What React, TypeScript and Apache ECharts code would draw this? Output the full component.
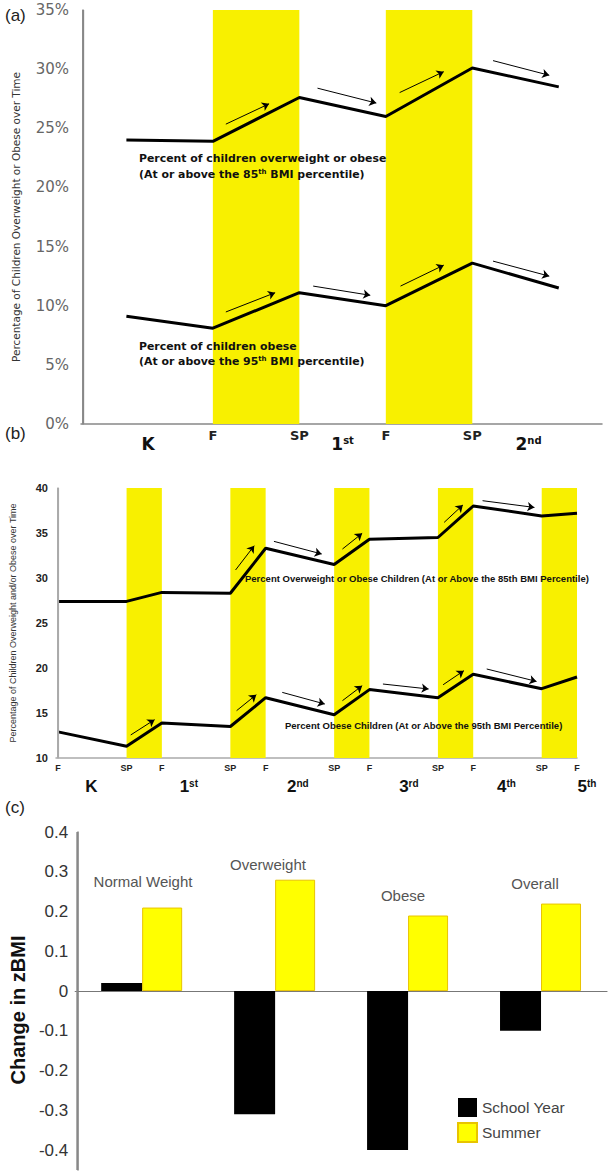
import React, { useEffect, useRef } from 'react';
import * as echarts from 'echarts';

// ---------- Panel (a) ----------
const A_X = [0.5, 1.5, 2.5, 3.5, 4.5, 5.5];
const A_OVER = [24.0, 23.9, 27.6, 26.0, 30.1, 28.5];
const A_OBESE = [9.1, 8.1, 11.1, 10.0, 13.6, 11.5];
const A_TERM_TICKS = [1.5, 2.5, 3.5, 4.5];
const A_TERM_LABELS = ['F', 'SP', 'F', 'SP'];
const A_GRADE_POS = [0.75, 3.0, 5.15];
const A_GRADES = [['K', ''], ['1', 'st'], ['2', 'nd']];
const A_SUMMER = [[1.5, 2.5], [3.5, 4.5]];
const A_ARROWS_OVER = [
  [1.65, 25.35, 2.15, 27.07],
  [2.71, 28.39, 3.39, 27.13],
  [3.66, 28.02, 4.17, 29.79],
  [4.74, 30.72, 5.39, 29.48],
];
const A_ARROWS_OBESE = [
  [1.65, 9.47, 2.22, 11.1],
  [2.66, 11.66, 3.32, 10.88],
  [3.67, 11.66, 4.17, 13.43],
  [4.74, 13.77, 5.39, 12.5],
];

// ---------- Panel (b) ----------
const B_X = [0, 0.66, 1, 1.66, 2, 2.66, 3, 3.66, 4, 4.66, 5];
const B_OVER = [27.4, 27.4, 28.4, 28.3, 33.3, 31.5, 34.3, 34.5, 38.0, 36.9, 37.2];
const B_OBESE = [12.9, 11.3, 13.9, 13.5, 16.7, 14.8, 17.6, 16.7, 19.3, 17.7, 19.0];
const B_TERM_TICKS = [0, 0.66, 1, 1.66, 2, 2.66, 3, 3.66, 4, 4.66, 5];
const B_TERM_LABELS = ['F', 'SP', 'F', 'SP', 'F', 'SP', 'F', 'SP', 'F', 'SP', 'F'];
const B_GRADE_POS = [0.32, 1.26, 2.31, 3.38, 4.32, 5];
const B_GRADES = [['K', ''], ['1', 'st'], ['2', 'nd'], ['3', 'rd'], ['4', 'th'], ['5', 'th']];
const B_SUMMER = [[0.66, 1], [1.66, 2], [2.66, 3], [3.66, 4], [4.66, 5]];
const B_ARROWS_OVER = [
  [1.71, 30.89, 1.89, 33.59],
  [2.08, 34.07, 2.54, 32.67],
  [2.74, 33.22, 2.93, 34.96],
  [3.72, 36.18, 3.9, 38.11],
  [4.09, 38.59, 4.59, 37.84],
];
const B_ARROWS_OBESE = [
  [0.7, 12.56, 0.93, 14.26],
  [1.72, 15.26, 1.91, 17.03],
  [2.16, 17.29, 2.57, 16.0],
  [2.74, 16.37, 2.93, 18.03],
  [3.13, 18.22, 3.57, 17.67],
  [3.71, 18.14, 3.91, 19.7],
  [4.13, 19.89, 4.61, 18.51],
];

// ---------- Panel (c) ----------
const C_CATS = ['Normal Weight', 'Overweight', 'Obese', 'Overall'];
const C_SCHOOL = [0.02, -0.31, -0.4, -0.1];
const C_SUMMER = [0.21, 0.28, 0.19, 0.22];
const C_Y_TICKS = [-0.4, -0.3, -0.2, -0.1, 0, 0.1, 0.2, 0.3, 0.4];

const YELLOW = '#f8f000';

function idxOf(list: number[], v: number) {
  return list.findIndex((x) => Math.abs(x - v) < 1e-6);
}

function arrowLines(arrows: number[][]) {
  return {
    silent: true,
    symbol: ['none', 'arrow'],
    symbolSize: 7,
    lineStyle: { color: '#000', width: 1, type: 'solid' },
    label: { show: false },
    emphasis: { disabled: true },
    data: arrows.map((a) => [{ coord: [a[0], a[1]] }, { coord: [a[2], a[3]] }]),
  };
}

export default function App() {
  const ref = useRef<HTMLDivElement>(null);
  useEffect(() => {
    document.body.style.margin = '0';
    const chart = echarts.init(ref.current!, null, { renderer: 'svg' });

    const gradeRichA = {
      g: { fontSize: 17, fontWeight: 'bold', color: '#111', fontFamily: 'DejaVu Sans' },
      s: { fontSize: 10, fontWeight: 'bold', color: '#111', fontFamily: 'DejaVu Sans', verticalAlign: 'top' },
    };
    const gradeRichB = {
      g: { fontSize: 17, fontWeight: 'bold', color: '#111', fontFamily: 'Liberation Sans' },
      s: { fontSize: 10, fontWeight: 'bold', color: '#111', fontFamily: 'Liberation Sans', verticalAlign: 'top' },
      p: { fontSize: 17, fontWeight: 'bold', color: '#111', fontFamily: 'Liberation Sans', padding: [0, 0, 0, 20] },
    };

    // y-axis line drawn as a thin rectangle through the library's coordinate mapping
    const yLine = (xIdx: number, yIdx: number, yMin: number, yMax: number, color: string) => ({
      type: 'custom', xAxisIndex: xIdx, yAxisIndex: yIdx, z: 10, silent: true, clip: false,
      data: [[0, yMin, yMax]],
      renderItem: (params: any, api: any) => {
        const p1 = api.coord([api.value(0), api.value(2)]);
        const p2 = api.coord([api.value(0), api.value(1)]);
        return {
          type: 'rect',
          shape: { x: p1[0] - 1, y: p1[1], width: 2, height: p2[1] - p1[1] },
          style: { fill: color },
        };
      },
    });

    const option: any = {
      animation: false,
      grid: [
        { left: 81, top: 10, width: 521, height: 414 },
        { left: 48, top: 488, width: 529, height: 270 },
        { left: 71, top: 832, width: 536, height: 338 },
      ],
      legend: {
        data: ['School Year', 'Summer'],
        orient: 'vertical',
        left: 457,
        top: 1098,
        padding: 0,
        itemWidth: 19,
        itemHeight: 19,
        itemGap: 5,
        icon: 'rect',
        selectedMode: false,
        textStyle: { fontSize: 15.5, color: '#444', fontFamily: 'Liberation Sans' },
      },
      xAxis: [
        {
          gridIndex: 0, type: 'value', min: -0.025, max: 6, position: 'bottom',
          axisLine: { show: true, lineStyle: { color: '#888', width: 1.5 } },
          axisTick: { show: false }, splitLine: { show: false },
          axisLabel: {
            customValues: A_TERM_TICKS,
            formatter: (v: number) => A_TERM_LABELS[idxOf(A_TERM_TICKS, v)] ?? '',
            fontSize: 13, fontWeight: 'bold', color: '#222', fontFamily: 'DejaVu Sans', margin: 5,
          },
        },
        {
          gridIndex: 0, type: 'value', min: -0.025, max: 6, position: 'bottom',
          axisLine: { show: false }, axisTick: { show: false }, splitLine: { show: false },
          axisLabel: {
            customValues: A_GRADE_POS,
            formatter: (v: number) => {
              const g = A_GRADES[idxOf(A_GRADE_POS, v)];
              if (!g) return '';
              return g[1] ? `{g|${g[0]}}{s|${g[1]}}` : `{g|${g[0]}}`;
            },
            rich: gradeRichA, margin: 11,
          },
        },
        {
          gridIndex: 1, type: 'value', min: -0.02, max: 5, position: 'bottom',
          axisLine: { show: true, lineStyle: { color: '#aaa', width: 1.5 } },
          axisTick: { show: false }, splitLine: { show: false },
          axisLabel: {
            customValues: B_TERM_TICKS,
            showMinLabel: true, showMaxLabel: true,
            formatter: (v: number) => B_TERM_LABELS[idxOf(B_TERM_TICKS, v)] ?? '',
            fontSize: 9, fontWeight: 'bold', color: '#222', fontFamily: 'Liberation Sans', margin: 5,
          },
        },
        {
          gridIndex: 1, type: 'value', min: -0.02, max: 5, position: 'bottom',
          axisLine: { show: false }, axisTick: { show: false }, splitLine: { show: false },
          axisLabel: {
            customValues: B_GRADE_POS,
            showMinLabel: true, showMaxLabel: true,
            formatter: (v: number) => {
              const i = idxOf(B_GRADE_POS, v);
              const g = B_GRADES[i];
              if (!g) return '';
              const main = i === B_GRADES.length - 1 ? 'p' : 'g';
              return g[1] ? `{${main}|${g[0]}}{s|${g[1]}}` : `{${main}|${g[0]}}`;
            },
            rich: gradeRichB, margin: 20,
          },
        },
        {
          gridIndex: 2, type: 'category', data: C_CATS,
          axisLine: { show: true, onZero: true, lineStyle: { color: '#777', width: 1.2 } },
          axisTick: { show: false }, splitLine: { show: false }, axisLabel: { show: false },
        },
        {
          gridIndex: 2, type: 'value', min: -0.004, max: 1, show: false,
        },
      ],
      yAxis: [
        {
          gridIndex: 0, type: 'value', min: 0, max: 35, interval: 5, position: 'left',
          axisLine: { show: true, onZero: true, lineStyle: { color: '#888', width: 1.5 } },
          axisTick: { show: false }, splitLine: { show: false },
          axisLabel: { formatter: '{value}%', color: '#666', fontSize: 15, fontFamily: 'DejaVu Sans', margin: 12 },
          name: 'Percentage of Children Overweight or Obese over Time',
          nameLocation: 'middle', nameGap: 60,
          nameTextStyle: { fontSize: 10.5, color: '#333', fontFamily: 'DejaVu Sans' },
        },
        {
          gridIndex: 1, type: 'value', min: 10, max: 40, interval: 5, position: 'left',
          axisLine: { show: true, onZero: true, lineStyle: { color: '#aaa', width: 1.5 } },
          axisTick: { show: false }, splitLine: { show: false },
          axisLabel: { color: '#222', fontSize: 11, fontWeight: 'bold', fontFamily: 'Liberation Sans', margin: 8 },
          name: 'Percentage of Children Overweight and/or Obese over Time',
          nameLocation: 'middle', nameGap: 39,
          nameTextStyle: { fontSize: 9, color: '#333', fontFamily: 'Liberation Sans' },
        },
        {
          gridIndex: 2, type: 'value', min: -0.45, max: 0.4, position: 'left',
          axisLine: { show: true, onZero: true, onZeroAxisIndex: 5, lineStyle: { color: '#888', width: 1.5 } },
          axisTick: { show: false }, splitLine: { show: false },
          axisLabel: {
            customValues: C_Y_TICKS,
            formatter: (v: number) => (Math.abs(v) < 1e-9 ? '0' : v.toFixed(1)),
            color: '#333', fontSize: 17, fontFamily: 'Liberation Sans', margin: 7,
          },
          name: 'Change in zBMI',
          nameLocation: 'middle', nameGap: 41,
          nameTextStyle: { fontSize: 20, fontWeight: 'bold', color: '#111', fontFamily: 'Liberation Sans', padding: [0, 18, 0, 0] },
        },
      ],
      series: [
        {
          name: 'bandA', type: 'line', xAxisIndex: 0, yAxisIndex: 0, data: [], z: 1, clip: false,
          markArea: {
            silent: true,
            itemStyle: { color: YELLOW },
            data: A_SUMMER.map(([s, e]) => [{ coord: [s, 0] }, { coord: [e, 35.4] }]),
          },
        },
        yLine(0, 0, 0, 35, '#888'),
        {
          name: 'A overweight', type: 'line', xAxisIndex: 0, yAxisIndex: 0, z: 3,
          data: A_X.map((x, i) => [x, A_OVER[i]]),
          symbol: 'none', lineStyle: { color: '#000', width: 3 },
          markLine: arrowLines(A_ARROWS_OVER),
        },
        {
          name: 'A obese', type: 'line', xAxisIndex: 0, yAxisIndex: 0, z: 3,
          data: A_X.map((x, i) => [x, A_OBESE[i]]),
          symbol: 'none', lineStyle: { color: '#000', width: 3 },
          markLine: arrowLines(A_ARROWS_OBESE),
        },
        {
          name: 'bandB', type: 'line', xAxisIndex: 2, yAxisIndex: 1, data: [], z: 1,
          markArea: {
            silent: true,
            itemStyle: { color: YELLOW },
            data: B_SUMMER.map(([s, e]) => [{ coord: [s, 10] }, { coord: [e, 40] }]),
          },
        },
        yLine(2, 1, 10, 40, '#aaa'),
        {
          name: 'B overweight', type: 'line', xAxisIndex: 2, yAxisIndex: 1, z: 3,
          data: B_X.map((x, i) => [x, B_OVER[i]]),
          symbol: 'none', lineStyle: { color: '#000', width: 3 },
          markLine: arrowLines(B_ARROWS_OVER),
        },
        {
          name: 'B obese', type: 'line', xAxisIndex: 2, yAxisIndex: 1, z: 3,
          data: B_X.map((x, i) => [x, B_OBESE[i]]),
          symbol: 'none', lineStyle: { color: '#000', width: 3 },
          markLine: arrowLines(B_ARROWS_OBESE),
        },
        yLine(5, 2, -0.45, 0.4, '#888'),
        {
          name: 'School Year', type: 'bar', xAxisIndex: 4, yAxisIndex: 2,
          data: C_SCHOOL,
          barWidth: 41, barGap: '0%',
          itemStyle: { color: '#000' },
        },
        {
          name: 'Summer', type: 'bar', xAxisIndex: 4, yAxisIndex: 2,
          data: C_SUMMER,
          barWidth: 40, barGap: '0%',
          itemStyle: { color: '#ffff00', borderColor: '#e8c400', borderWidth: 1 },
        },
      ],
      graphic: [
        { type: 'text', x: 5, y: 15, style: { text: '(a)', fontSize: 17, fontFamily: 'Liberation Sans', fill: '#222', verticalAlign: 'middle' } },
        { type: 'text', x: 5, y: 433, style: { text: '(b)', fontSize: 17, fontFamily: 'Liberation Sans', fill: '#222', verticalAlign: 'middle' } },
        { type: 'text', x: 5, y: 807, style: { text: '(c)', fontSize: 17, fontFamily: 'Liberation Sans', fill: '#222', verticalAlign: 'middle' } },
        {
          type: 'text', x: 139, y: 158, z: 10,
          style: { text: 'Percent of children overweight or obese', fontSize: 10.9, fontWeight: 'bold', fontFamily: 'DejaVu Sans', fill: '#111', verticalAlign: 'middle' },
        },
        {
          type: 'text', x: 139, y: 174, z: 10,
          style: {
            text: '(At or above the 85{s|th} BMI percentile)',
            fontSize: 10.9, fontWeight: 'bold', fontFamily: 'DejaVu Sans', fill: '#111', verticalAlign: 'middle',
            rich: { s: { fontSize: 7, fontWeight: 'bold', fontFamily: 'DejaVu Sans', fill: '#111', verticalAlign: 'top' } },
          },
        },
        {
          type: 'text', x: 139, y: 346, z: 10,
          style: { text: 'Percent of children obese', fontSize: 10.9, fontWeight: 'bold', fontFamily: 'DejaVu Sans', fill: '#111', verticalAlign: 'middle' },
        },
        {
          type: 'text', x: 139, y: 361, z: 10,
          style: {
            text: '(At or above the 95{s|th} BMI percentile)',
            fontSize: 10.9, fontWeight: 'bold', fontFamily: 'DejaVu Sans', fill: '#111', verticalAlign: 'middle',
            rich: { s: { fontSize: 7, fontWeight: 'bold', fontFamily: 'DejaVu Sans', fill: '#111', verticalAlign: 'top' } },
          },
        },
        {
          type: 'text', x: 245, y: 578, z: 10,
          style: { text: 'Percent Overweight or Obese Children (At or Above the 85th BMI Percentile)', fontSize: 9.5, fontWeight: 'bold', fontFamily: 'Liberation Sans', fill: '#111', verticalAlign: 'middle' },
        },
        {
          type: 'text', x: 285, y: 725, z: 10,
          style: { text: 'Percent Obese Children (At or Above the 95th BMI Percentile)', fontSize: 9.5, fontWeight: 'bold', fontFamily: 'Liberation Sans', fill: '#111', verticalAlign: 'middle' },
        },
        { type: 'text', x: 143, y: 881, style: { text: C_CATS[0], fontSize: 15, fontFamily: 'Liberation Sans', fill: '#555', align: 'center', verticalAlign: 'middle' } },
        { type: 'text', x: 268, y: 864, style: { text: C_CATS[1], fontSize: 15, fontFamily: 'Liberation Sans', fill: '#555', align: 'center', verticalAlign: 'middle' } },
        { type: 'text', x: 403, y: 895, style: { text: C_CATS[2], fontSize: 15, fontFamily: 'Liberation Sans', fill: '#555', align: 'center', verticalAlign: 'middle' } },
        { type: 'text', x: 535, y: 883, style: { text: C_CATS[3], fontSize: 15, fontFamily: 'Liberation Sans', fill: '#555', align: 'center', verticalAlign: 'middle' } },
      ],
    };
    chart.setOption(option);
    return () => chart.dispose();
  }, []);
  return <div ref={ref} style={{ width: 611, height: 1171 }} />;
}
